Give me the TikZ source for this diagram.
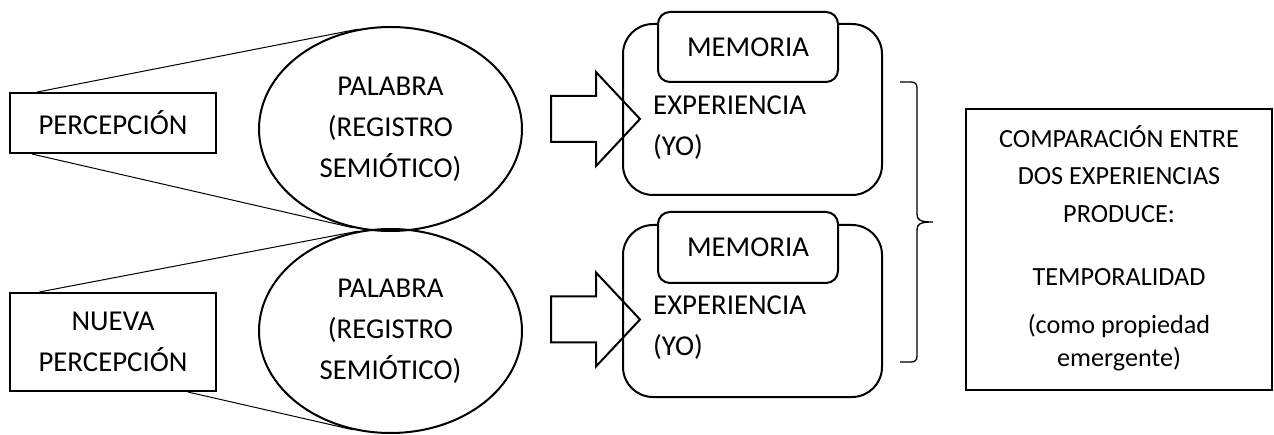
\documentclass[tikz,border=0pt]{standalone}
\usepackage{fontspec}
\setmainfont{Carlito}
\usetikzlibrary{calc,shapes.geometric}
\newcommand\diagfont{\fontsize{28.8}{41}\selectfont}
\newcommand\notefont{\fontsize{26.2}{37.5}\selectfont}
\begin{document}
\begin{tikzpicture}[x=1pt,y=-1pt,
  heavy/.style={line width=2pt},
  fine/.style={line width=1pt},
  percbox/.style={draw, heavy, minimum width=206pt, inner sep=0pt, align=center, font=\diagfont},
  wordell/.style={draw, heavy, ellipse, minimum width=263pt, minimum height=204pt, inner sep=0pt, align=center, font=\diagfont},
  expbox/.style={draw, heavy, rounded corners=30pt, minimum width=259pt, inner sep=0pt},
  membox/.style={draw, heavy, fill=white, rounded corners=12pt, minimum width=180pt, inner sep=0pt, font=\diagfont},
  exptext/.style={anchor=west, inner sep=0pt, align=left, font=\diagfont},
  blockarrow/.style={draw, heavy, line join=miter},
  bracket/.style={line width=1.3pt}
]
\useasboundingbox (0,0) rectangle (1274,435);

% perception boxes
\node[percbox, minimum height=60pt] (p1) at (113,123) {PERCEPCIÓN};
\node[percbox, minimum height=98pt] (p2) at (113,342) {NUEVA\\PERCEPCIÓN};

% word ellipses
\node[wordell] (e1) at (390.5,129) {PALABRA\\(REGISTRO\\SEMIÓTICO)};
\node[wordell] (e2) at (390.5,331) {PALABRA\\(REGISTRO\\SEMIÓTICO)};

% cone lines from each perception box to its ellipse
\coordinate (s1) at ($(p1.north west)!0.136!(p1.north east)$);
\coordinate (s2) at ($(p1.south west)!0.11!(p1.south east)$);
\coordinate (s3) at ($(p2.north west)!0.146!(p2.north east)$);
\coordinate (s4) at ($(p2.south west)!0.86!(p2.south east)$);
\draw[fine] (s1) -- (e1.108);
\draw[fine] (s2) -- (e1.249);
\draw[fine] (s3) -- (e2.108);
\draw[fine] (s4) -- (e2.249);

% experience boxes with memory tabs
\node[expbox, minimum height=171pt] (x1) at (752.5,109.5) {};
\node[expbox, minimum height=172pt] (x2) at (752.5,311) {};
\node[membox, minimum height=70pt] (m1) at (748,47) {MEMORIA};
\node[membox, minimum height=71pt] (m2) at (748,247.5) {MEMORIA};
\node[exptext] (xt1) at (653,128) {EXPERIENCIA\\(YO)};
\node[exptext] (xt2) at (653,328) {EXPERIENCIA\\(YO)};

% block arrows from the ellipses to the experience boxes
\draw[blockarrow] (551,96) -- (596,96) -- (596,72) -- (640,119)
  -- (596,166) -- (596,142) -- (551,142) -- cycle;
\draw[blockarrow] (551,296.5) -- (596,296.5) -- (596,272.5) -- (640,319.5)
  -- (596,366.5) -- (596,342.5) -- (551,342.5) -- cycle;

% right brace grouping both experiences
\draw[bracket] (900,82) -- (911,82) .. controls (915,82) and (917,84) .. (917,88)
  -- (917,214) .. controls (917,220) and (920,222) .. (933,222)
  .. controls (920,222) and (917,224) .. (917,230)
  -- (917,356) .. controls (917,360) and (915,362) .. (911,362) -- (900,362);

% conclusion box
\node[draw, heavy, minimum width=306pt, minimum height=281pt, inner sep=0pt] (cmp) at (1119,249.5) {};
\node[anchor=north, inner sep=0pt, align=center, font=\notefont] (cmpt) at (1119,122)
  {\rule{0pt}{25pt}COMPARACIÓN ENTRE\\DOS EXPERIENCIAS\\PRODUCE:\\[25.5pt]
   TEMPORALIDAD\\[10.5pt](como propiedad\\[-4.5pt]emergente)};
\end{tikzpicture}
\end{document}
